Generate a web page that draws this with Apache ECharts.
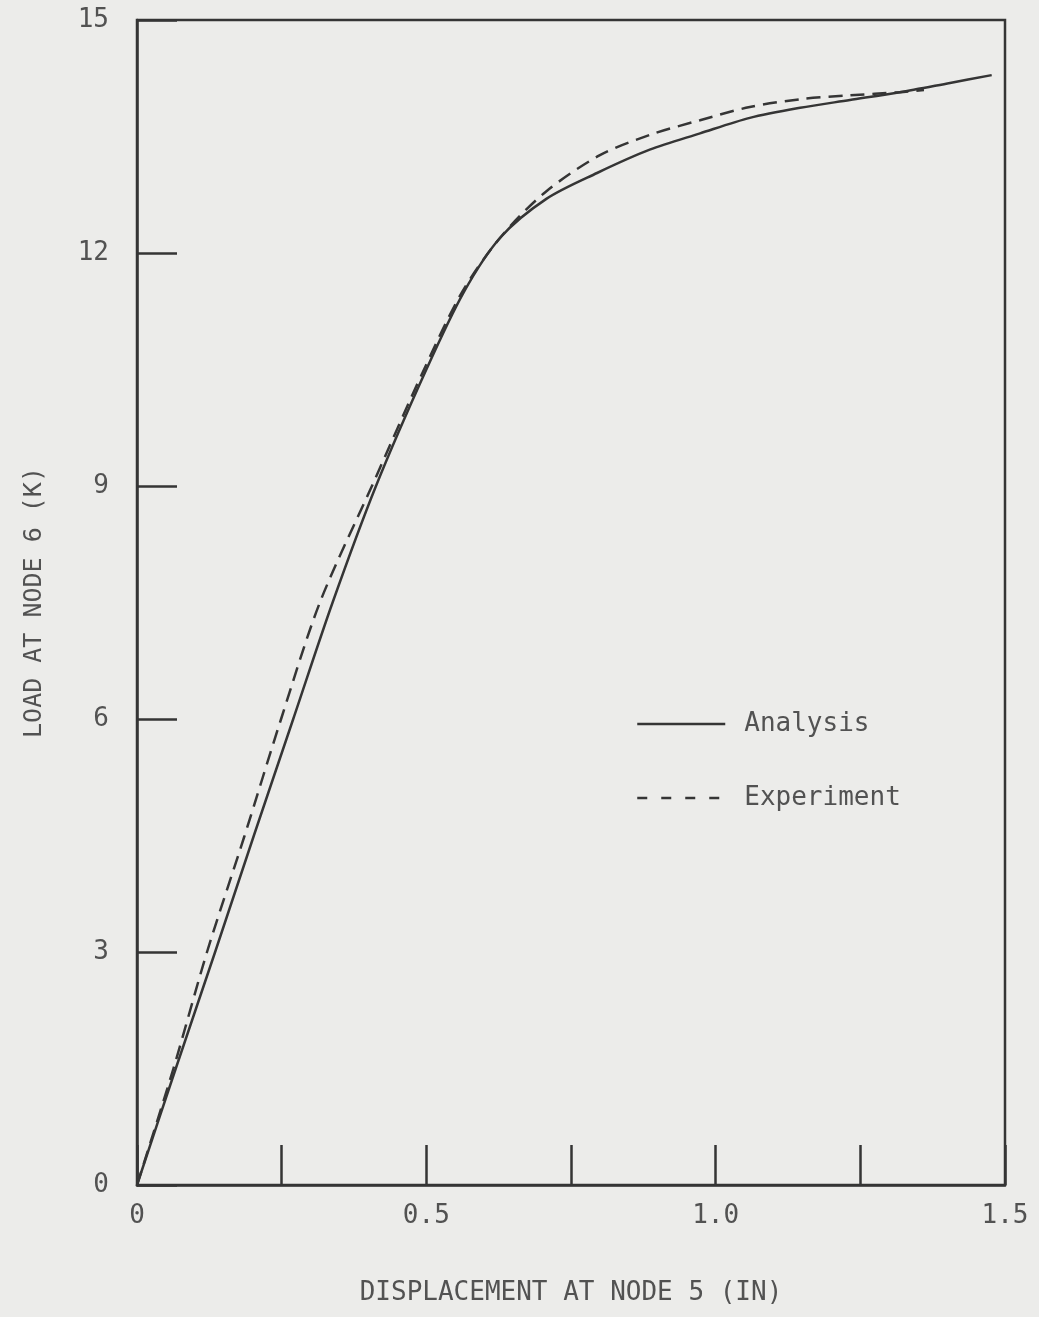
<!DOCTYPE html>
<html>
<head>
<meta charset="utf-8">
<script src="https://cdn.jsdelivr.net/npm/echarts@6/dist/echarts.min.js"></script>
<style>
html,body{margin:0;padding:0;background:#ececea;}
#chart{width:1039px;height:1317px;}
</style>
</head>
<body>
<div id="chart"></div>
<script>
// Analysis (solid): displacement (in) and load (k)
const analysisX = [0, 0.067, 0.135, 0.202, 0.270, 0.338, 0.413, 0.500, 0.565, 0.628, 0.708, 0.795, 0.886, 0.973, 1.059, 1.146, 1.232, 1.318, 1.405, 1.477];
const analysisY = [0, 1.50, 3.00, 4.50, 6.00, 7.50, 9.00, 10.50, 11.50, 12.20, 12.70, 13.03, 13.33, 13.54, 13.74, 13.87, 13.97, 14.07, 14.19, 14.29];
// Experiment (dashed)
const experimentX = [0, 0.063, 0.121, 0.186, 0.249, 0.316, 0.406, 0.496, 0.562, 0.628, 0.705, 0.800, 0.886, 0.973, 1.059, 1.146, 1.232, 1.318, 1.360];
const experimentY = [0, 1.50, 3.00, 4.50, 6.00, 7.50, 9.00, 10.50, 11.50, 12.20, 12.78, 13.26, 13.52, 13.71, 13.88, 13.98, 14.03, 14.07, 14.10];
const xTickLabels = {"0": "0", "0.5": "0.5", "1": "1.0", "1.5": "1.5"};
const yTickLabels = ["0", "3", "6", "9", "12", "15"];
const xTitle = "DISPLACEMENT AT NODE 5 (IN)";
const yTitle = "LOAD AT NODE 6 (K)";
const seriesNames = ["Analysis", "Experiment"];

const zip = (xs, ys) => xs.map((x, i) => [x, ys[i]]);
const FONT = '"DejaVu Sans Mono", monospace';
const TXT = '#525252';
const LINE = '#353535';

const chart = echarts.init(document.getElementById('chart'));
chart.setOption({
  backgroundColor: '#ececea',
  animation: false,
  grid: {left: 137, right: 34, top: 20, bottom: 132, show: true, borderColor: LINE, borderWidth: 2.5, backgroundColor: 'transparent'},
  legend: {
    orient: 'vertical', left: 631, top: 706, itemGap: 48, itemWidth: 88, itemHeight: 14,
    itemStyle: {opacity: 0},
    data: [
      {name: seriesNames[0], lineStyle: {color: LINE, width: 2.5, type: 'solid'}},
      {name: seriesNames[1], lineStyle: {color: LINE, width: 2.5, type: [10, 14]}}
    ],
    textStyle: {fontFamily: FONT, fontSize: 26, color: TXT, padding: [0, 0, 0, 14]}
  },
  xAxis: {
    type: 'value', min: 0, max: 1.5, interval: 0.25,
    name: xTitle, nameLocation: 'middle', nameGap: 95,
    nameTextStyle: {fontFamily: FONT, fontSize: 26, color: TXT},
    axisLine: {lineStyle: {color: LINE, width: 2.5}},
    axisTick: {inside: true, length: 40, lineStyle: {color: LINE, width: 2.5}},
    splitLine: {show: false},
    axisLabel: {fontFamily: FONT, fontSize: 26, color: TXT, margin: 18,
      formatter: v => { const k = String(+v.toFixed(2)); return xTickLabels[k] !== undefined ? xTickLabels[k] : ''; }}
  },
  yAxis: {
    type: 'value', min: 0, max: 15, interval: 3,
    name: yTitle, nameLocation: 'middle', nameGap: 90,
    nameTextStyle: {fontFamily: FONT, fontSize: 25, color: TXT},
    axisLine: {lineStyle: {color: LINE, width: 2.5}},
    axisTick: {inside: true, length: 40, lineStyle: {color: LINE, width: 2.5}},
    splitLine: {show: false},
    axisLabel: {fontFamily: FONT, fontSize: 26, color: TXT, margin: 28,
      formatter: v => yTickLabels[Math.round(v / 3)]}
  },
  series: [
    {name: seriesNames[0], type: 'line', data: zip(analysisX, analysisY), smooth: 0.3, showSymbol: false, symbol: 'none',
     lineStyle: {color: LINE, width: 2.5, type: 'solid'}, itemStyle: {color: LINE}},
    {name: seriesNames[1], type: 'line', data: zip(experimentX, experimentY), smooth: 0.3, showSymbol: false, symbol: 'none',
     lineStyle: {color: LINE, width: 2.5, type: [14, 8]}, itemStyle: {color: LINE}}
  ]
});
</script>
</body>
</html>
